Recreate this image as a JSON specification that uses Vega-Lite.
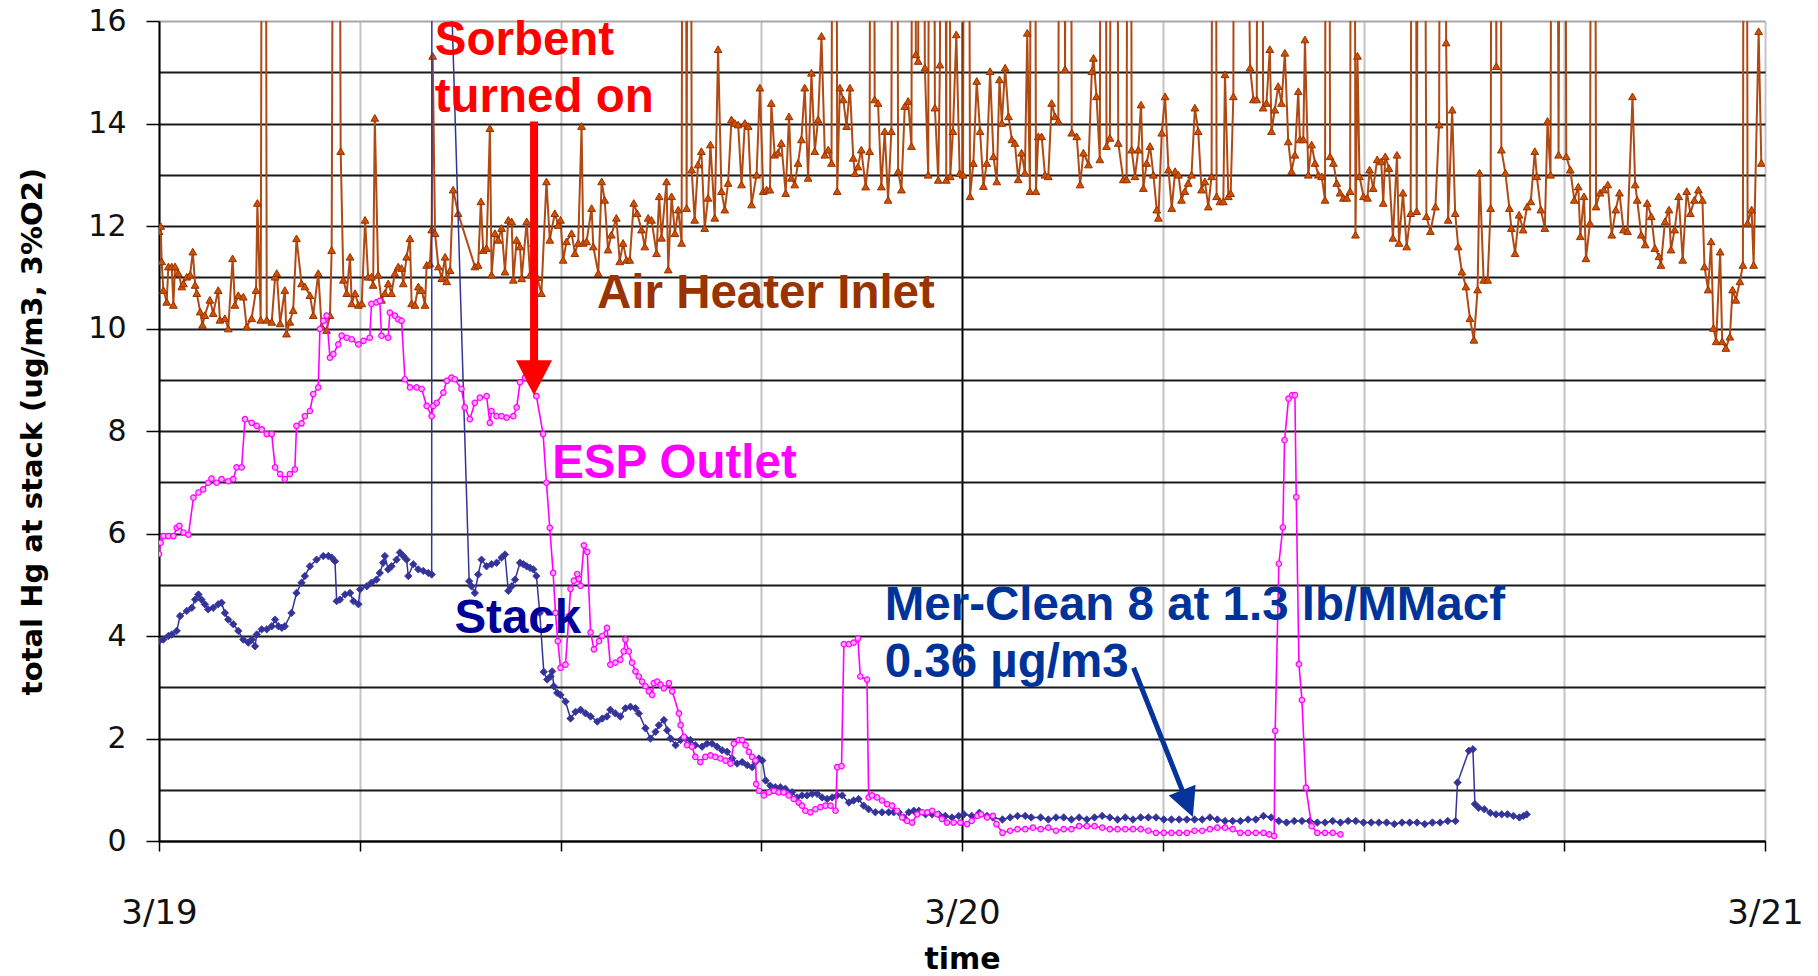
{
"$schema":"https://vega.github.io/schema/vega-lite/v6.json",
"width":1606,"height":820,
"autosize":{"type":"none"},
"padding":{"left":159,"top":21,"right":53,"bottom":135},
"background":"white",
"config":{"view":{"stroke":null}},
"datasets":{
"air":[{"h":0,"v":11.9},{"h":0.05,"v":12.0},{"h":0.08,"v":11.31},{"h":0.13,"v":10.75},{"h":0.23,"v":10.52},{"h":0.28,"v":11.21},{"h":0.38,"v":11.21},{"h":0.43,"v":10.46},{"h":0.48,"v":11.21},{"h":0.58,"v":11.08},{"h":0.68,"v":10.82},{"h":0.73,"v":10.88},{"h":0.83,"v":11.01},{"h":0.93,"v":11.05},{"h":1.01,"v":11.5},{"h":1.08,"v":10.85},{"h":1.13,"v":10.69},{"h":1.23,"v":10.33},{"h":1.3,"v":10.07},{"h":1.37,"v":10.26},{"h":1.52,"v":10.56},{"h":1.62,"v":10.3},{"h":1.77,"v":10.75},{"h":1.82,"v":10.17},{"h":1.97,"v":10.2},{"h":2.07,"v":10.0},{"h":2.2,"v":11.37},{"h":2.27,"v":10.46},{"h":2.37,"v":10.65},{"h":2.52,"v":10.62},{"h":2.62,"v":10.04},{"h":2.77,"v":10.2},{"h":2.9,"v":10.75},{"h":2.94,"v":12.45},{"h":3.04,"v":10.17},{"h":3.14,"v":40},{"h":3.22,"v":10.17},{"h":3.37,"v":10.13},{"h":3.47,"v":11.01},{"h":3.52,"v":11.08},{"h":3.62,"v":10.1},{"h":3.76,"v":10.75},{"h":3.81,"v":9.9},{"h":3.91,"v":10.13},{"h":4.01,"v":10.36},{"h":4.11,"v":11.76},{"h":4.26,"v":10.88},{"h":4.36,"v":10.82},{"h":4.51,"v":10.65},{"h":4.61,"v":10.26},{"h":4.76,"v":11.08},{"h":4.86,"v":10.04},{"h":5.01,"v":9.97},{"h":5.11,"v":10.26},{"h":5.16,"v":11.53},{"h":5.3,"v":40},{"h":5.43,"v":13.46},{"h":5.51,"v":10.95},{"h":5.61,"v":10.69},{"h":5.71,"v":11.4},{"h":5.76,"v":10.49},{"h":5.86,"v":10.69},{"h":5.96,"v":10.46},{"h":6.06,"v":10.49},{"h":6.16,"v":12.12},{"h":6.25,"v":11.01},{"h":6.35,"v":11.01},{"h":6.4,"v":10.85},{"h":6.45,"v":14.11},{"h":6.55,"v":11.05},{"h":6.65,"v":10.56},{"h":6.75,"v":10.69},{"h":6.85,"v":10.88},{"h":6.95,"v":10.69},{"h":7.05,"v":11.08},{"h":7.15,"v":11.21},{"h":7.25,"v":11.18},{"h":7.3,"v":10.88},{"h":7.4,"v":11.4},{"h":7.5,"v":11.76},{"h":7.55,"v":10.49},{"h":7.65,"v":10.46},{"h":7.75,"v":10.82},{"h":7.85,"v":10.75},{"h":7.95,"v":10.46},{"h":8.0,"v":11.24},{"h":8.1,"v":11.27},{"h":8.15,"v":11.93},{"h":8.18,"v":15.32},{"h":8.25,"v":11.86},{"h":8.35,"v":11.21},{"h":8.45,"v":10.98},{"h":8.55,"v":11.4},{"h":8.6,"v":10.92},{"h":8.7,"v":11.14},{"h":8.79,"v":12.71},{"h":8.94,"v":12.25},{"h":9.44,"v":11.21},{"h":9.54,"v":11.24},{"h":9.62,"v":12.48},{"h":9.69,"v":11.53},{"h":9.79,"v":11.57},{"h":9.89,"v":13.91},{"h":9.94,"v":11.05},{"h":10.04,"v":11.86},{"h":10.14,"v":11.73},{"h":10.24,"v":11.96},{"h":10.34,"v":11.11},{"h":10.44,"v":12.12},{"h":10.54,"v":12.09},{"h":10.59,"v":10.95},{"h":10.69,"v":11.73},{"h":10.79,"v":11.6},{"h":10.84,"v":10.98},{"h":10.99,"v":12.09},{"h":11.09,"v":11.05},{"h":11.19,"v":11.67},{"h":11.3,"v":11.0},{"h":11.43,"v":10.69},{"h":11.58,"v":12.87},{"h":11.68,"v":11.73},{"h":11.83,"v":12.25},{"h":11.93,"v":12.02},{"h":12.0,"v":12.12},{"h":12.08,"v":11.34},{"h":12.18,"v":11.7},{"h":12.33,"v":11.86},{"h":12.43,"v":11.47},{"h":12.53,"v":11.67},{"h":12.63,"v":13.95},{"h":12.68,"v":11.67},{"h":12.78,"v":11.7},{"h":12.93,"v":12.35},{"h":12.98,"v":11.6},{"h":13.13,"v":11.08},{"h":13.23,"v":12.87},{"h":13.32,"v":12.51},{"h":13.42,"v":11.54},{"h":13.52,"v":11.83},{"h":13.67,"v":12.16},{"h":13.77,"v":11.31},{"h":13.87,"v":11.67},{"h":13.97,"v":11.34},{"h":14.07,"v":11.34},{"h":14.19,"v":12.45},{"h":14.29,"v":12.25},{"h":14.42,"v":11.93},{"h":14.52,"v":11.6},{"h":14.62,"v":12.16},{"h":14.72,"v":12.12},{"h":14.87,"v":11.47},{"h":14.95,"v":12.58},{"h":15.02,"v":11.77},{"h":15.17,"v":12.87},{"h":15.22,"v":11.15},{"h":15.32,"v":12.58},{"h":15.42,"v":11.86},{"h":15.52,"v":12.32},{"h":15.62,"v":11.67},{"h":15.69,"v":40},{"h":15.77,"v":12.35},{"h":15.85,"v":40},{"h":15.92,"v":13.1},{"h":16.01,"v":12.12},{"h":16.11,"v":13.2},{"h":16.21,"v":13.46},{"h":16.31,"v":11.96},{"h":16.41,"v":12.55},{"h":16.48,"v":13.59},{"h":16.61,"v":12.16},{"h":16.71,"v":15.45},{"h":16.81,"v":12.68},{"h":16.91,"v":12.32},{"h":17.01,"v":12.84},{"h":17.11,"v":14.08},{"h":17.21,"v":14.01},{"h":17.31,"v":13.98},{"h":17.41,"v":12.81},{"h":17.51,"v":14.01},{"h":17.61,"v":13.95},{"h":17.71,"v":12.42},{"h":17.86,"v":13.0},{"h":17.96,"v":14.7},{"h":18.06,"v":12.68},{"h":18.16,"v":12.71},{"h":18.26,"v":12.71},{"h":18.3,"v":14.4},{"h":18.4,"v":13.39},{"h":18.5,"v":13.43},{"h":18.6,"v":13.62},{"h":18.73,"v":12.64},{"h":18.83,"v":14.14},{"h":18.9,"v":12.94},{"h":19.0,"v":12.81},{"h":19.1,"v":13.23},{"h":19.2,"v":13.69},{"h":19.3,"v":14.7},{"h":19.4,"v":12.94},{"h":19.5,"v":14.99},{"h":19.6,"v":13.46},{"h":19.7,"v":14.08},{"h":19.8,"v":15.71},{"h":19.9,"v":13.39},{"h":20.0,"v":13.49},{"h":20.1,"v":13.23},{"h":20.2,"v":40},{"h":20.27,"v":12.68},{"h":20.35,"v":14.7},{"h":20.45,"v":14.47},{"h":20.55,"v":13.95},{"h":20.65,"v":14.7},{"h":20.75,"v":13.33},{"h":20.8,"v":13.03},{"h":20.89,"v":13.16},{"h":20.99,"v":13.49},{"h":21.12,"v":12.77},{"h":21.24,"v":13.46},{"h":21.31,"v":40},{"h":21.39,"v":14.47},{"h":21.49,"v":14.4},{"h":21.59,"v":12.77},{"h":21.69,"v":13.85},{"h":21.79,"v":12.51},{"h":21.89,"v":13.85},{"h":22.0,"v":40},{"h":22.09,"v":13.07},{"h":22.19,"v":12.71},{"h":22.29,"v":14.34},{"h":22.39,"v":14.44},{"h":22.49,"v":13.56},{"h":22.56,"v":40},{"h":22.62,"v":15.35},{"h":22.69,"v":15.22},{"h":22.77,"v":40},{"h":22.89,"v":15.09},{"h":22.99,"v":13.0},{"h":23.09,"v":40},{"h":23.19,"v":14.31},{"h":23.29,"v":12.9},{"h":23.34,"v":15.15},{"h":23.43,"v":40},{"h":23.53,"v":12.9},{"h":23.58,"v":40},{"h":23.65,"v":12.97},{"h":23.73,"v":13.85},{"h":23.83,"v":15.74},{"h":23.93,"v":13.03},{"h":24.03,"v":13.0},{"h":24.13,"v":40},{"h":24.24,"v":12.58},{"h":24.34,"v":13.23},{"h":24.44,"v":14.83},{"h":24.54,"v":13.85},{"h":24.64,"v":12.78},{"h":24.74,"v":13.23},{"h":24.84,"v":15.02},{"h":24.94,"v":13.36},{"h":25.04,"v":12.87},{"h":25.12,"v":14.86},{"h":25.19,"v":14.01},{"h":25.29,"v":15.09},{"h":25.39,"v":14.14},{"h":25.49,"v":13.69},{"h":25.58,"v":13.62},{"h":25.68,"v":12.91},{"h":25.78,"v":13.43},{"h":25.88,"v":13.04},{"h":25.95,"v":15.77},{"h":26.03,"v":12.68},{"h":26.13,"v":40},{"h":26.21,"v":12.68},{"h":26.28,"v":13.75},{"h":26.38,"v":13.75},{"h":26.48,"v":13.0},{"h":26.58,"v":12.97},{"h":26.68,"v":14.4},{"h":26.78,"v":14.14},{"h":26.88,"v":14.05},{"h":26.98,"v":40},{"h":27.08,"v":15.06},{"h":27.18,"v":40},{"h":27.28,"v":13.82},{"h":27.43,"v":13.75},{"h":27.53,"v":12.81},{"h":27.63,"v":13.43},{"h":27.78,"v":13.2},{"h":27.88,"v":15.02},{"h":27.93,"v":15.28},{"h":28.02,"v":14.53},{"h":28.12,"v":13.3},{"h":28.2,"v":40},{"h":28.32,"v":13.56},{"h":28.42,"v":13.72},{"h":28.57,"v":40},{"h":28.67,"v":13.62},{"h":28.82,"v":12.91},{"h":28.92,"v":12.91},{"h":29.0,"v":40},{"h":29.07,"v":13.49},{"h":29.17,"v":12.97},{"h":29.27,"v":13.49},{"h":29.35,"v":14.37},{"h":29.42,"v":12.74},{"h":29.52,"v":13.23},{"h":29.62,"v":13.56},{"h":29.72,"v":13.0},{"h":29.82,"v":12.32},{"h":29.87,"v":12.16},{"h":29.97,"v":13.82},{"h":30.07,"v":14.53},{"h":30.17,"v":13.1},{"h":30.27,"v":12.35},{"h":30.37,"v":13.07},{"h":30.47,"v":13.0},{"h":30.56,"v":12.51},{"h":30.66,"v":12.68},{"h":30.76,"v":12.84},{"h":30.86,"v":13.0},{"h":30.96,"v":14.31},{"h":31.06,"v":13.85},{"h":31.16,"v":12.71},{"h":31.26,"v":12.87},{"h":31.36,"v":12.38},{"h":31.46,"v":12.97},{"h":31.53,"v":40},{"h":31.61,"v":12.58},{"h":31.71,"v":12.48},{"h":31.81,"v":12.48},{"h":31.86,"v":14.96},{"h":31.96,"v":12.58},{"h":32.03,"v":12.64},{"h":32.11,"v":14.53},{"h":32.18,"v":40},{"h":32.61,"v":15.09},{"h":32.71,"v":14.47},{"h":32.81,"v":14.47},{"h":32.89,"v":40},{"h":33.0,"v":14.31},{"h":33.1,"v":14.4},{"h":33.2,"v":15.45},{"h":33.25,"v":13.85},{"h":33.35,"v":14.27},{"h":33.45,"v":14.73},{"h":33.55,"v":14.4},{"h":33.65,"v":15.38},{"h":33.75,"v":13.65},{"h":33.85,"v":13.07},{"h":33.95,"v":13.39},{"h":34.05,"v":14.63},{"h":34.1,"v":13.69},{"h":34.2,"v":13.69},{"h":34.25,"v":15.64},{"h":34.35,"v":13.0},{"h":34.45,"v":13.59},{"h":34.55,"v":13.23},{"h":34.65,"v":13.0},{"h":34.75,"v":12.97},{"h":34.85,"v":12.51},{"h":34.92,"v":40},{"h":35.0,"v":13.36},{"h":35.1,"v":13.23},{"h":35.2,"v":12.84},{"h":35.3,"v":12.65},{"h":35.4,"v":12.55},{"h":35.5,"v":12.55},{"h":35.6,"v":12.68},{"h":35.68,"v":40},{"h":35.76,"v":11.83},{"h":35.82,"v":15.32},{"h":35.88,"v":12.97},{"h":36.0,"v":12.58},{"h":36.12,"v":12.55},{"h":36.18,"v":13.1},{"h":36.29,"v":12.74},{"h":36.41,"v":13.3},{"h":36.53,"v":13.26},{"h":36.59,"v":12.45},{"h":36.65,"v":13.36},{"h":36.76,"v":13.13},{"h":36.88,"v":11.77},{"h":37.0,"v":13.39},{"h":37.06,"v":11.67},{"h":37.18,"v":12.65},{"h":37.29,"v":11.6},{"h":37.41,"v":12.25},{"h":37.5,"v":40},{"h":37.59,"v":12.29},{"h":37.72,"v":40},{"h":37.88,"v":12.19},{"h":38.0,"v":11.9},{"h":38.15,"v":12.38},{"h":38.26,"v":13.98},{"h":38.36,"v":40},{"h":38.47,"v":15.58},{"h":38.53,"v":12.12},{"h":38.65,"v":14.27},{"h":38.74,"v":12.25},{"h":38.83,"v":11.6},{"h":38.94,"v":11.11},{"h":39.06,"v":10.82},{"h":39.18,"v":10.2},{"h":39.3,"v":9.78},{"h":39.41,"v":10.76},{"h":39.47,"v":13.04},{"h":39.59,"v":10.95},{"h":39.71,"v":10.95},{"h":39.8,"v":12.35},{"h":39.89,"v":40},{"h":39.97,"v":15.12},{"h":40.04,"v":40},{"h":40.12,"v":13.49},{"h":40.24,"v":13.04},{"h":40.36,"v":12.35},{"h":40.42,"v":11.96},{"h":40.53,"v":11.47},{"h":40.65,"v":12.22},{"h":40.77,"v":11.93},{"h":40.89,"v":12.38},{"h":41.0,"v":12.48},{"h":41.12,"v":13.46},{"h":41.18,"v":12.97},{"h":41.3,"v":12.32},{"h":41.42,"v":11.96},{"h":41.5,"v":14.05},{"h":41.59,"v":13.0},{"h":41.69,"v":40},{"h":41.83,"v":13.39},{"h":41.96,"v":40},{"h":42.06,"v":13.36},{"h":42.18,"v":13.1},{"h":42.3,"v":12.51},{"h":42.42,"v":12.77},{"h":42.48,"v":11.8},{"h":42.59,"v":12.58},{"h":42.65,"v":11.37},{"h":42.77,"v":12.06},{"h":42.86,"v":40},{"h":42.95,"v":12.38},{"h":43.07,"v":12.65},{"h":43.18,"v":12.71},{"h":43.3,"v":12.81},{"h":43.42,"v":11.83},{"h":43.54,"v":12.32},{"h":43.65,"v":12.65},{"h":43.77,"v":11.93},{"h":43.89,"v":11.9},{"h":44.04,"v":14.53},{"h":44.12,"v":12.81},{"h":44.18,"v":12.51},{"h":44.3,"v":11.83},{"h":44.42,"v":11.64},{"h":44.48,"v":12.45},{"h":44.6,"v":12.19},{"h":44.71,"v":11.57},{"h":44.83,"v":11.41},{"h":44.89,"v":11.24},{"h":45.01,"v":12.09},{"h":45.13,"v":12.32},{"h":45.19,"v":11.54},{"h":45.3,"v":11.93},{"h":45.42,"v":12.58},{"h":45.54,"v":11.34},{"h":45.66,"v":12.68},{"h":45.77,"v":12.25},{"h":45.89,"v":12.51},{"h":46.01,"v":12.71},{"h":46.13,"v":12.51},{"h":46.19,"v":11.21},{"h":46.3,"v":10.76},{"h":46.39,"v":11.7},{"h":46.46,"v":10.01},{"h":46.54,"v":9.75},{"h":46.66,"v":11.5},{"h":46.72,"v":9.75},{"h":46.83,"v":9.62},{"h":46.95,"v":9.84},{"h":47.03,"v":10.76},{"h":47.13,"v":10.56},{"h":47.25,"v":10.92},{"h":47.34,"v":11.24},{"h":47.4,"v":40},{"h":47.48,"v":12.06},{"h":47.6,"v":12.32},{"h":47.66,"v":11.24},{"h":47.81,"v":15.8},{"h":47.89,"v":13.23}],
"stack":[{"h":0,"v":3.9},{"h":0.13,"v":3.93},{"h":0.28,"v":4.0},{"h":0.38,"v":4.03},{"h":0.53,"v":4.1},{"h":0.63,"v":4.39},{"h":0.83,"v":4.49},{"h":0.98,"v":4.55},{"h":1.08,"v":4.71},{"h":1.18,"v":4.81},{"h":1.27,"v":4.71},{"h":1.37,"v":4.62},{"h":1.47,"v":4.52},{"h":1.62,"v":4.55},{"h":1.77,"v":4.62},{"h":1.87,"v":4.65},{"h":1.97,"v":4.45},{"h":2.07,"v":4.32},{"h":2.22,"v":4.23},{"h":2.37,"v":4.1},{"h":2.52,"v":3.93},{"h":2.67,"v":3.87},{"h":2.77,"v":3.93},{"h":2.87,"v":3.8},{"h":2.92,"v":4.03},{"h":3.07,"v":4.13},{"h":3.22,"v":4.13},{"h":3.37,"v":4.19},{"h":3.47,"v":4.32},{"h":3.57,"v":4.19},{"h":3.67,"v":4.16},{"h":3.76,"v":4.19},{"h":3.96,"v":4.45},{"h":4.11,"v":4.84},{"h":4.26,"v":5.04},{"h":4.36,"v":5.17},{"h":4.51,"v":5.36},{"h":4.71,"v":5.49},{"h":4.91,"v":5.56},{"h":5.06,"v":5.56},{"h":5.16,"v":5.53},{"h":5.26,"v":5.46},{"h":5.31,"v":4.68},{"h":5.41,"v":4.71},{"h":5.56,"v":4.81},{"h":5.71,"v":4.84},{"h":5.81,"v":4.68},{"h":5.96,"v":4.62},{"h":6.01,"v":4.91},{"h":6.21,"v":4.97},{"h":6.35,"v":5.04},{"h":6.5,"v":5.1},{"h":6.6,"v":5.23},{"h":6.7,"v":5.43},{"h":6.75,"v":5.56},{"h":6.85,"v":5.3},{"h":6.95,"v":5.36},{"h":7.1,"v":5.49},{"h":7.2,"v":5.63},{"h":7.3,"v":5.56},{"h":7.4,"v":5.49},{"h":7.45,"v":5.17},{"h":7.6,"v":5.4},{"h":7.75,"v":5.3},{"h":7.9,"v":5.27},{"h":8.05,"v":5.23},{"h":8.15,"v":5.2},{"h":8.16,"v":29},{"h":9.27,"v":5.07},{"h":9.34,"v":4.97},{"h":9.44,"v":4.84},{"h":9.54,"v":5.2},{"h":9.64,"v":5.49},{"h":9.79,"v":5.36},{"h":9.94,"v":5.4},{"h":10.09,"v":5.43},{"h":10.24,"v":5.53},{"h":10.34,"v":5.59},{"h":10.44,"v":4.88},{"h":10.54,"v":4.97},{"h":10.64,"v":5.1},{"h":10.79,"v":5.43},{"h":10.89,"v":5.4},{"h":10.99,"v":5.36},{"h":11.09,"v":5.33},{"h":11.19,"v":5.3},{"h":11.28,"v":5.17},{"h":11.38,"v":4.45},{"h":11.5,"v":3.3},{"h":11.6,"v":3.15},{"h":11.7,"v":3.21},{"h":11.75,"v":3.31},{"h":11.8,"v":3.02},{"h":11.9,"v":2.89},{"h":12.0,"v":2.85},{"h":12.15,"v":2.72},{"h":12.3,"v":2.39},{"h":12.45,"v":2.52},{"h":12.6,"v":2.56},{"h":12.75,"v":2.49},{"h":12.9,"v":2.43},{"h":13.1,"v":2.33},{"h":13.25,"v":2.39},{"h":13.39,"v":2.43},{"h":13.49,"v":2.56},{"h":13.64,"v":2.49},{"h":13.79,"v":2.43},{"h":13.94,"v":2.59},{"h":14.09,"v":2.62},{"h":14.24,"v":2.59},{"h":14.34,"v":2.49},{"h":14.54,"v":2.2},{"h":14.69,"v":2.0},{"h":14.84,"v":2.13},{"h":14.94,"v":2.26},{"h":15.09,"v":2.36},{"h":15.19,"v":2.16},{"h":15.29,"v":2.0},{"h":15.44,"v":1.87},{"h":15.59,"v":1.97},{"h":15.74,"v":2.0},{"h":15.88,"v":1.97},{"h":16.03,"v":1.87},{"h":16.23,"v":1.84},{"h":16.38,"v":1.9},{"h":16.53,"v":1.9},{"h":16.68,"v":1.84},{"h":16.83,"v":1.77},{"h":16.98,"v":1.74},{"h":17.13,"v":1.61},{"h":17.28,"v":1.51},{"h":17.43,"v":1.54},{"h":17.58,"v":1.48},{"h":17.73,"v":1.44},{"h":17.83,"v":1.54},{"h":17.93,"v":1.61},{"h":18.03,"v":1.57},{"h":18.13,"v":1.18},{"h":18.27,"v":1.08},{"h":18.42,"v":1.05},{"h":18.57,"v":1.05},{"h":18.72,"v":1.02},{"h":18.92,"v":0.95},{"h":19.07,"v":0.85},{"h":19.22,"v":0.89},{"h":19.37,"v":0.89},{"h":19.52,"v":0.92},{"h":19.67,"v":0.92},{"h":19.82,"v":0.85},{"h":19.97,"v":0.82},{"h":20.12,"v":0.85},{"h":20.27,"v":0.89},{"h":20.42,"v":0.89},{"h":20.62,"v":0.75},{"h":20.76,"v":0.79},{"h":20.91,"v":0.82},{"h":21.06,"v":0.69},{"h":21.21,"v":0.62},{"h":21.41,"v":0.56},{"h":21.61,"v":0.56},{"h":21.81,"v":0.56},{"h":21.96,"v":0.56},{"h":22.11,"v":0.56},{"h":22.26,"v":0.46},{"h":22.41,"v":0.56},{"h":22.56,"v":0.59},{"h":22.71,"v":0.59},{"h":22.91,"v":0.52},{"h":23.11,"v":0.52},{"h":23.31,"v":0.52},{"h":23.5,"v":0.49},{"h":23.7,"v":0.46},{"h":23.9,"v":0.49},{"h":24.06,"v":0.52},{"h":24.29,"v":0.49},{"h":24.52,"v":0.55},{"h":24.75,"v":0.49},{"h":24.92,"v":0.46},{"h":25.21,"v":0.42},{"h":25.44,"v":0.46},{"h":25.66,"v":0.49},{"h":25.89,"v":0.49},{"h":26.07,"v":0.46},{"h":26.35,"v":0.46},{"h":26.58,"v":0.42},{"h":26.81,"v":0.46},{"h":27.04,"v":0.46},{"h":27.27,"v":0.42},{"h":27.5,"v":0.46},{"h":27.73,"v":0.42},{"h":27.96,"v":0.46},{"h":28.19,"v":0.49},{"h":28.42,"v":0.46},{"h":28.65,"v":0.42},{"h":28.88,"v":0.46},{"h":29.11,"v":0.42},{"h":29.34,"v":0.46},{"h":29.57,"v":0.46},{"h":29.8,"v":0.46},{"h":30.03,"v":0.42},{"h":30.26,"v":0.42},{"h":30.49,"v":0.42},{"h":30.72,"v":0.42},{"h":30.95,"v":0.42},{"h":31.18,"v":0.42},{"h":31.41,"v":0.46},{"h":31.63,"v":0.42},{"h":31.86,"v":0.39},{"h":32.09,"v":0.39},{"h":32.32,"v":0.39},{"h":32.55,"v":0.42},{"h":32.78,"v":0.42},{"h":33.01,"v":0.49},{"h":33.24,"v":0.46},{"h":33.47,"v":0.39},{"h":33.7,"v":0.36},{"h":33.93,"v":0.39},{"h":34.16,"v":0.39},{"h":34.39,"v":0.39},{"h":34.62,"v":0.36},{"h":34.85,"v":0.36},{"h":35.08,"v":0.39},{"h":35.31,"v":0.36},{"h":35.54,"v":0.39},{"h":35.77,"v":0.39},{"h":36.0,"v":0.36},{"h":36.23,"v":0.36},{"h":36.46,"v":0.36},{"h":36.69,"v":0.36},{"h":36.92,"v":0.33},{"h":37.15,"v":0.36},{"h":37.38,"v":0.36},{"h":37.6,"v":0.36},{"h":37.83,"v":0.33},{"h":38.06,"v":0.36},{"h":38.29,"v":0.36},{"h":38.52,"v":0.39},{"h":38.75,"v":0.39},{"h":38.81,"v":1.14},{"h":39.15,"v":1.76},{"h":39.27,"v":1.79},{"h":39.33,"v":0.72},{"h":39.44,"v":0.65},{"h":39.61,"v":0.62},{"h":39.79,"v":0.55},{"h":39.96,"v":0.52},{"h":40.13,"v":0.52},{"h":40.3,"v":0.52},{"h":40.48,"v":0.49},{"h":40.66,"v":0.46},{"h":40.78,"v":0.49},{"h":40.88,"v":0.52}],
"esp":[{"h":0,"v":5.6},{"h":0.05,"v":5.82},{"h":0.13,"v":5.95},{"h":0.28,"v":5.95},{"h":0.43,"v":5.95},{"h":0.53,"v":6.11},{"h":0.61,"v":6.15},{"h":0.73,"v":6.02},{"h":0.88,"v":5.98},{"h":1.03,"v":6.7},{"h":1.18,"v":6.8},{"h":1.32,"v":6.86},{"h":1.47,"v":6.99},{"h":1.57,"v":7.07},{"h":1.72,"v":6.99},{"h":1.87,"v":7.06},{"h":2.07,"v":7.02},{"h":2.22,"v":7.06},{"h":2.32,"v":7.29},{"h":2.47,"v":7.29},{"h":2.57,"v":8.23},{"h":2.77,"v":8.16},{"h":2.92,"v":8.1},{"h":3.07,"v":8.03},{"h":3.22,"v":7.94},{"h":3.37,"v":7.94},{"h":3.47,"v":7.29},{"h":3.62,"v":7.16},{"h":3.76,"v":7.06},{"h":3.91,"v":7.16},{"h":4.06,"v":7.25},{"h":4.11,"v":8.1},{"h":4.26,"v":8.15},{"h":4.36,"v":8.29},{"h":4.51,"v":8.39},{"h":4.61,"v":8.72},{"h":4.76,"v":8.85},{"h":4.81,"v":9.99},{"h":4.91,"v":10.15},{"h":5.01,"v":10.25},{"h":5.11,"v":9.43},{"h":5.21,"v":9.5},{"h":5.36,"v":9.69},{"h":5.46,"v":9.86},{"h":5.61,"v":9.82},{"h":5.76,"v":9.79},{"h":5.96,"v":9.69},{"h":6.11,"v":9.76},{"h":6.3,"v":9.82},{"h":6.35,"v":10.48},{"h":6.5,"v":10.51},{"h":6.6,"v":10.54},{"h":6.65,"v":9.86},{"h":6.85,"v":9.82},{"h":6.9,"v":10.31},{"h":7.05,"v":10.25},{"h":7.15,"v":10.18},{"h":7.25,"v":10.15},{"h":7.35,"v":9.01},{"h":7.5,"v":8.85},{"h":7.7,"v":8.85},{"h":7.85,"v":8.82},{"h":8.0,"v":8.49},{"h":8.15,"v":8.29},{"h":8.2,"v":8.49},{"h":8.3,"v":8.55},{"h":8.5,"v":8.75},{"h":8.6,"v":8.98},{"h":8.74,"v":9.04},{"h":8.84,"v":9.01},{"h":9.04,"v":8.82},{"h":9.14,"v":8.46},{"h":9.29,"v":8.23},{"h":9.44,"v":8.55},{"h":9.59,"v":8.65},{"h":9.79,"v":8.68},{"h":9.89,"v":8.16},{"h":9.94,"v":8.39},{"h":10.09,"v":8.29},{"h":10.24,"v":8.29},{"h":10.39,"v":8.26},{"h":10.59,"v":8.29},{"h":10.69,"v":8.46},{"h":10.79,"v":8.95},{"h":10.94,"v":9.04},{"h":11.28,"v":8.68},{"h":11.48,"v":7.94},{"h":11.58,"v":6.99},{"h":11.68,"v":6.11},{"h":11.78,"v":5.23},{"h":11.85,"v":4.45},{"h":11.92,"v":3.9},{"h":12.0,"v":3.38},{"h":12.15,"v":3.44},{"h":12.25,"v":4.39},{"h":12.3,"v":4.92},{"h":12.4,"v":5.08},{"h":12.5,"v":5.21},{"h":12.55,"v":5.11},{"h":12.6,"v":4.98},{"h":12.7,"v":5.77},{"h":12.8,"v":5.64},{"h":12.9,"v":4.07},{"h":13.0,"v":3.74},{"h":13.15,"v":3.9},{"h":13.25,"v":4.0},{"h":13.39,"v":4.16},{"h":13.49,"v":3.44},{"h":13.64,"v":3.48},{"h":13.79,"v":3.54},{"h":13.89,"v":3.7},{"h":13.94,"v":3.93},{"h":14.04,"v":3.7},{"h":14.14,"v":3.48},{"h":14.24,"v":3.31},{"h":14.34,"v":3.21},{"h":14.44,"v":3.11},{"h":14.54,"v":3.02},{"h":14.64,"v":2.92},{"h":14.74,"v":2.85},{"h":14.79,"v":3.08},{"h":14.89,"v":3.11},{"h":14.99,"v":3.05},{"h":15.09,"v":2.98},{"h":15.24,"v":3.08},{"h":15.34,"v":2.92},{"h":15.54,"v":2.49},{"h":15.59,"v":2.26},{"h":15.69,"v":2.03},{"h":15.78,"v":1.87},{"h":15.93,"v":1.84},{"h":16.03,"v":1.64},{"h":16.18,"v":1.54},{"h":16.33,"v":1.64},{"h":16.48,"v":1.67},{"h":16.63,"v":1.64},{"h":16.78,"v":1.61},{"h":16.93,"v":1.57},{"h":17.08,"v":1.51},{"h":17.18,"v":1.9},{"h":17.33,"v":1.97},{"h":17.43,"v":1.97},{"h":17.53,"v":1.87},{"h":17.63,"v":1.74},{"h":17.73,"v":1.64},{"h":17.83,"v":1.57},{"h":17.85,"v":1.11},{"h":17.93,"v":0.98},{"h":18.08,"v":0.89},{"h":18.23,"v":0.95},{"h":18.38,"v":0.98},{"h":18.52,"v":0.95},{"h":18.67,"v":0.95},{"h":18.82,"v":0.89},{"h":18.97,"v":0.82},{"h":19.12,"v":0.75},{"h":19.22,"v":0.69},{"h":19.32,"v":0.59},{"h":19.47,"v":0.56},{"h":19.62,"v":0.62},{"h":19.77,"v":0.66},{"h":19.92,"v":0.69},{"h":20.07,"v":0.69},{"h":20.22,"v":0.59},{"h":20.27,"v":1.44},{"h":20.4,"v":1.46},{"h":20.47,"v":3.84},{"h":20.62,"v":3.84},{"h":20.76,"v":3.87},{"h":20.89,"v":3.95},{"h":20.96,"v":3.21},{"h":21.16,"v":3.15},{"h":21.21,"v":0.85},{"h":21.31,"v":0.89},{"h":21.46,"v":0.85},{"h":21.61,"v":0.79},{"h":21.76,"v":0.72},{"h":21.91,"v":0.69},{"h":22.06,"v":0.59},{"h":22.21,"v":0.46},{"h":22.36,"v":0.39},{"h":22.51,"v":0.36},{"h":22.66,"v":0.52},{"h":22.81,"v":0.56},{"h":22.96,"v":0.56},{"h":23.11,"v":0.59},{"h":23.26,"v":0.52},{"h":23.4,"v":0.43},{"h":23.55,"v":0.36},{"h":23.75,"v":0.36},{"h":23.95,"v":0.36},{"h":24.15,"v":0.33},{"h":24.29,"v":0.39},{"h":24.46,"v":0.49},{"h":24.57,"v":0.52},{"h":24.75,"v":0.46},{"h":24.92,"v":0.49},{"h":25.03,"v":0.33},{"h":25.21,"v":0.16},{"h":25.44,"v":0.2},{"h":25.66,"v":0.23},{"h":25.89,"v":0.23},{"h":26.12,"v":0.26},{"h":26.35,"v":0.23},{"h":26.58,"v":0.26},{"h":26.81,"v":0.2},{"h":27.04,"v":0.23},{"h":27.27,"v":0.23},{"h":27.5,"v":0.29},{"h":27.73,"v":0.29},{"h":27.96,"v":0.29},{"h":28.19,"v":0.26},{"h":28.42,"v":0.23},{"h":28.65,"v":0.23},{"h":28.88,"v":0.23},{"h":29.11,"v":0.23},{"h":29.34,"v":0.23},{"h":29.57,"v":0.2},{"h":29.8,"v":0.16},{"h":30.03,"v":0.16},{"h":30.26,"v":0.16},{"h":30.49,"v":0.16},{"h":30.72,"v":0.16},{"h":30.95,"v":0.2},{"h":31.18,"v":0.2},{"h":31.41,"v":0.23},{"h":31.63,"v":0.26},{"h":31.86,"v":0.26},{"h":32.09,"v":0.23},{"h":32.32,"v":0.16},{"h":32.55,"v":0.16},{"h":32.78,"v":0.16},{"h":33.01,"v":0.16},{"h":33.18,"v":0.13},{"h":33.33,"v":0.1},{"h":33.36,"v":2.15},{"h":33.47,"v":5.41},{"h":33.59,"v":6.12},{"h":33.64,"v":7.82},{"h":33.76,"v":8.63},{"h":33.87,"v":8.7},{"h":33.95,"v":8.7},{"h":33.99,"v":6.71},{"h":34.07,"v":3.45},{"h":34.16,"v":2.75},{"h":34.28,"v":1.04},{"h":34.45,"v":0.29},{"h":34.62,"v":0.16},{"h":34.85,"v":0.16},{"h":35.08,"v":0.16},{"h":35.31,"v":0.13}]
},
"encoding":{
 "x":{"field":"h","type":"quantitative","scale":{"domain":[0,48],"nice":false,"zero":false},
  "axis":{"values":[0,6,12,18,24,30,36,42,48],"labelExpr":"datum.value==0?'3/19':(datum.value==24?'3/20':(datum.value==48?'3/21':''))",
   "labelFont":"DejaVu Sans","labelFontSize":34,"labelColor":"#111","labelPadding":45,"labelFlush":false,"labelOverlap":false,
   "tickSize":10,"tickColor":"#000","tickWidth":1.5,"domainColor":"#000","domainWidth":2,
   "grid":true,"gridColor":{"condition":{"test":"datum.value==24","value":"#000"},"value":"#c4c4c4"},"gridWidth":2,
   "title":"time","titleFont":"DejaVu Sans","titleFontWeight":"bold","titleFontSize":30,"titleColor":"#000","titleX":803,"titleY":127,"titleBaseline":"alphabetic","titleAlign":"center"}},
 "y":{"field":"v","type":"quantitative","scale":{"domain":[0,16],"nice":false,"zero":true},
  "axis":{"values":[0,1,2,3,4,5,6,7,8,9,10,11,12,13,14,15,16],"labelExpr":"datum.value%2==0?datum.label:''",
   "labelFont":"DejaVu Sans","labelFontSize":30,"labelColor":"#111","labelPadding":20,
   "tickSize":13,"tickWidth":1.5,"tickColor":{"condition":{"test":"datum.value%2!=0","value":"transparent"},"value":"#000"},
   "domainColor":"#000","domainWidth":2,
   "grid":true,"gridColor":{"condition":{"test":"datum.value==16","value":"#a8a8a8"},"value":"#1a1a1a"},"gridWidth":2.2,
   "title":"total Hg at stack (ug/m3, 3%O2)","titleFont":"DejaVu Sans","titleFontWeight":"bold","titleFontSize":29,"titleColor":"#000","titleAngle":-90,"titleX":-127,"titleY":410,"titleBaseline":"middle","titleAlign":"center"}}
},
"layer":[
 {"data":{"name":"air"},"mark":{"type":"line","clip":true,"color":"#b04a14","strokeWidth":2}},
 {"data":{"name":"air"},"mark":{"type":"point","clip":true,"shape":"triangle-up","filled":true,"fill":"#d05000","stroke":"#963200","strokeWidth":1,"size":60,"opacity":1}},
 {"data":{"name":"stack"},"mark":{"type":"line","clip":true,"color":"#333399","strokeWidth":1.5}},
 {"data":{"name":"stack"},"mark":{"type":"point","clip":true,"shape":"diamond","filled":true,"fill":"#333399","stroke":"#333399","strokeWidth":0.8,"size":55,"opacity":1}},
 {"data":{"name":"esp"},"mark":{"type":"line","clip":true,"color":"#ff00ff","strokeWidth":1.6}},
 {"data":{"name":"esp"},"mark":{"type":"point","clip":true,"shape":"circle","filled":true,"fill":"#ffa8ff","stroke":"#ff00ff","strokeWidth":1.2,"size":30,"opacity":1}},
 {"data":{"values":[{"h":8.24,"v":15.34,"t":"Sorbent"},{"h":8.24,"v":14.22,"t":"turned on"}]},"mark":{"type":"text","align":"left","baseline":"alphabetic","font":"Liberation Sans","fontWeight":"bold","fontSize":47.5,"color":"#ff0000"},"encoding":{"text":{"field":"t"}}},
 {"data":{"values":[{"h":13.09,"v":10.4,"t":"Air Heater Inlet"}]},"mark":{"type":"text","align":"left","baseline":"alphabetic","font":"Liberation Sans","fontWeight":"bold","fontSize":47.5,"color":"#993300"},"encoding":{"text":{"field":"t"}}},
 {"data":{"values":[{"h":11.75,"v":7.08,"t":"ESP Outlet"}]},"mark":{"type":"text","align":"left","baseline":"alphabetic","font":"Liberation Sans","fontWeight":"bold","fontSize":47.5,"color":"#ff00ff"},"encoding":{"text":{"field":"t"}}},
 {"data":{"values":[{"h":8.83,"v":4.06,"t":"Stack"}]},"mark":{"type":"text","align":"left","baseline":"alphabetic","font":"Liberation Sans","fontWeight":"bold","fontSize":47.5,"color":"#000099"},"encoding":{"text":{"field":"t"}}},
 {"data":{"values":[{"h":21.69,"v":4.31,"t":"Mer-Clean 8 at 1.3 lb/MMacf"},{"h":21.69,"v":3.2,"t":"0.36 µg/m3"}]},"mark":{"type":"text","align":"left","baseline":"alphabetic","font":"Liberation Sans","fontWeight":"bold","fontSize":47.5,"color":"#003399"},"encoding":{"text":{"field":"t"}}},
 {"data":{"values":[{"h":11.21,"v":14.04,"h2":11.21,"v2":9.3}]},"mark":{"type":"rule","color":"#ff0000","strokeWidth":8},"encoding":{"x2":{"field":"h2"},"y2":{"field":"v2"}}},
 {"data":{"values":[{"h":11.21,"v":9.04}]},"mark":{"type":"point","shape":"M-1,-0.97L1,-0.97L0,0.97Z","size":1296,"filled":true,"color":"#ff0000","opacity":1,"strokeWidth":0}},
 {"data":{"values":[{"h":29.13,"v":3.38,"h2":30.74,"v2":0.73}]},"mark":{"type":"rule","color":"#063399","strokeWidth":5},"encoding":{"x2":{"field":"h2"},"y2":{"field":"v2"}}},
 {"data":{"values":[{"h":30.74,"v":0.73}]},"mark":{"type":"point","shape":"M-1,-1L1,-1L0,1Z","size":841,"angle":-21.7,"filled":true,"color":"#063399","opacity":1,"strokeWidth":0}}
]
}
